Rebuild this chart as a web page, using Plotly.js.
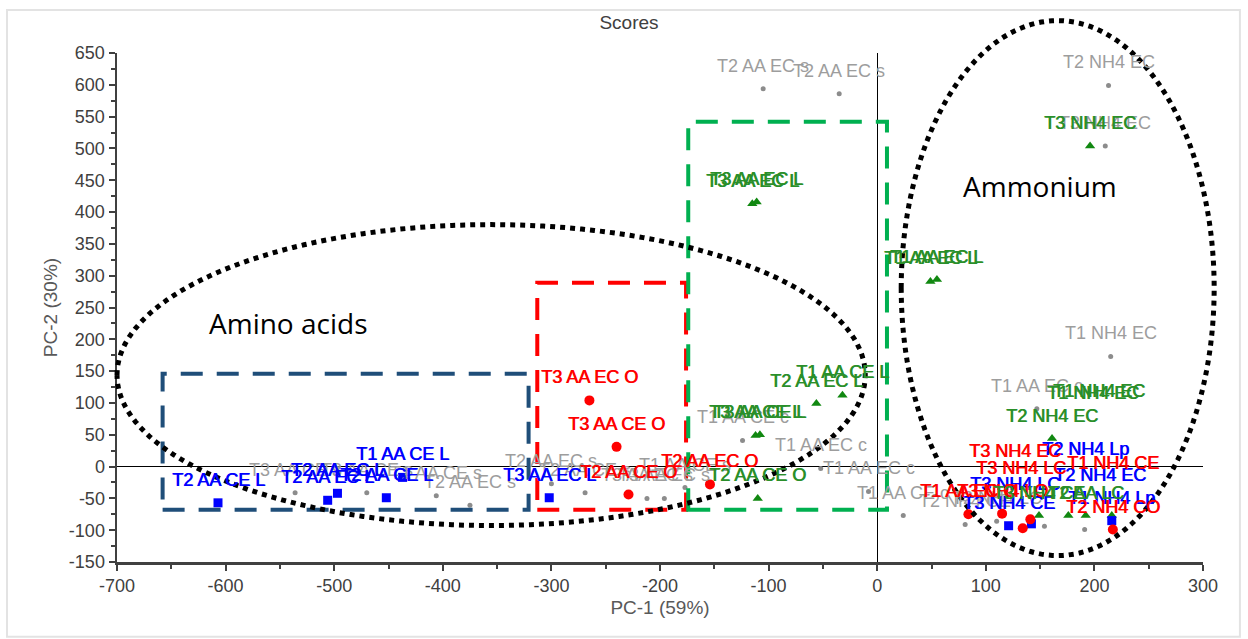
<!DOCTYPE html>
<html><head><meta charset="utf-8">
<script src="https://cdn.plot.ly/plotly-3.0.1.min.js"></script>
<style>html,body{margin:0;padding:0;background:#fff;}#chart{width:1248px;height:639px;}</style>
</head><body><div id="chart"></div>
<script>
// ---------- data (PC-1, PC-2 scores) ----------
const grayX = [-105, -35, 213, 210, 215, 147, -124, 24, -536, -470, -406, -375, -300, -269, -212, -196, -177, 81, 110, 154, 191, -52, -8];
const grayY = [594, 586, 599, 504, 173, 91, 41, -77, -41, -41, -46, -61, -27, -41, -50, -50, -33, -91, -86, -94, -99, -3, -39];
const grayLabels = ["T2 AA EC s","T2 AA EC s","T2 NH4 EC","T3 NH4 EC","T1 NH4 EC","T1 AA EC c","T1 AA CE c","T1 AA CE c","T3 AA CE s","T3 AA CE s","T1 AA CE s","T2 AA EC s","T2 AA EC s","T2 AA CE s","T3 AA EC s","T3 AA EC s","T1 AA CE s","T2 NH4 CE","T2 NH4 LC","","","T1 AA EC c","T1 AA EC c"];

const blueX = [-607, -506, -497, -452, -437, -302, 121, 142, 216];
const blueY = [-57, -53, -42, -49, -17, -49, -93, -90, -85];
const blueLabels = ["T2 AA CE L","T2 AA EC L","T2 AA EC L","T2 AA CE L","T1 AA CE L","T3 AA EC L","T3 NH4 CE","","T1 NH4 Lp"];
const blueTagX = [127, 192, 205];
const blueTagY = [-63, -8, -50];
const blueTagLabels = ["T3 NH4 LC","T2 NH4 Lp","T2 NH4 EC"];

const redX = [-265, -240, -229, -154, 84, 115, 134, 141, 217];
const redY = [104, 31, -44, -28, -75, -74, -97, -83, -99];
const redLabels = ["T3 AA EC O","T3 AA CE O","T2 AA CE O","T2 AA EC O","T1 AA EC O","T3 NH4 LO","","","T2 NH4 CO"];
const redTagX = [127, 217, 132];
const redTagY = [-11, -30, -39];
const redTagLabels = ["T3 NH4 EC","T1 NH4 CE","T3 NH4 LC"];

const greenX = [-115, -111, 49, 55, 196, -32, -56, -112, -108, -110, 161, 149, 176, 192, 216];
const greenY = [413, 416, 291, 294, 504, 112, 99, 49, 50, -50, 44, -77, -77, -77, -77];
const greenLabels = ["T3 AA EC L","T3 AA EC L","T1 AA EC L","T1 AA EC L","T3 NH4 EC","T1 AA CE L","T2 AA EC L","T3 AA CE L","T3 AA CE L","T2 AA CE O","T2 NH4 EC","T3 NH4 CE","","T2 AA LC",""];
const greenTagX = [199, 204];
const greenTagY = [80, 83];
const greenTagLabels = ["T1 NH4 EC","T1 NH4 EC"];

// tick labels
const xTickVals = [-700, -600, -500, -400, -300, -200, -100, 0, 100, 200, 300];
const xTickText = ["-700", "-600", "-500", "-400", "-300", "-200", "-100", "0", "100", "200", "300"];
const yTickVals = [-150, -100, -50, 0, 50, 100, 150, 200, 250, 300, 350, 400, 450, 500, 550, 600, 650];
const yTickText = ["-150", "-100", "-50", "0", "50", "100", "150", "200", "250", "300", "350", "400", "450", "500", "550", "600", "650"];

// group outlines (data units)
const boxX0 = [-658, -313, -174];
const boxX1 = [-321, -176, 9];
const boxY0 = [-68, -68, -68];
const boxY1 = [146, 289, 542];
const ellCX = [-355.5, 166.2];
const ellCY = [143.8, 280.5];
const ellA = [344.5, 144.1];
const ellB = [236.5, 420.4];
const groupNames = ["Amino acids", "Ammonium"];
const groupNameX = [-542, 150];
const groupNameY = [226, 441];

// ---------- styling ----------
const xRange = [-700, 300], yRange = [-150, 650];
const FONT = 'Liberation Sans, Arial, sans-serif';
const C = {gray:'#8c8c8c', grayText:'#9d9d9d', blue:'#0000ff', red:'#ff0000', greenM:'#118811', greenT:'#2a8f2a'};

function mk(x, y, color, symbol, size){
  return {type:'scatter', mode:'markers', x:x, y:y, hoverinfo:'skip', showlegend:false,
    marker:{color:color, symbol:symbol, size:size, line:{width:0}}};
}
const traces = [
  mk(grayX, grayY, C.gray, 'circle', 5),
  mk(greenX, greenY, C.greenM, 'triangle-up', 9),
  mk(blueX, blueY, C.blue, 'square', 9),
  mk(redX, redY, C.red, 'circle', 10)
];

const annotations = [];
function addLabels(xs, ys, texts, color, bold){
  for (let i = 0; i < xs.length; i++){
    if (!texts[i]) continue;
    annotations.push({x:xs[i], y:ys[i], text:texts[i], showarrow:false, yshift:23,
      xanchor:'center', yanchor:'middle',
      font:{family:FONT, size:18, color:color, shadow: bold ? ('0.8px 0 0 ' + color) : 'none'}});
  }
}
addLabels(grayX, grayY, grayLabels, C.grayText, false);
addLabels(blueX, blueY, blueLabels, C.blue, true);
addLabels(blueTagX, blueTagY, blueTagLabels, C.blue, true);
addLabels(redX, redY, redLabels, C.red, true);
addLabels(redTagX, redTagY, redTagLabels, C.red, true);
addLabels(greenX, greenY, greenLabels, C.greenT, true);
addLabels(greenTagX, greenTagY, greenTagLabels, C.greenT, true);

for (let i = 0; i < groupNames.length; i++){
  annotations.push({x:groupNameX[i], y:groupNameY[i], text:groupNames[i], showarrow:false,
    xanchor:'center', yanchor:'middle', font:{family:'Open Sans, sans-serif', size:28, color:'#000'}});
}

const px = v => (v - xRange[0]) / (xRange[1] - xRange[0]);
const py = v => (v - yRange[0]) / (yRange[1] - yRange[0]);
const shapes = [];
const boxColors = ['#1f4e79', '#ff0000', '#00b050'];
for (let i = 0; i < boxX0.length; i++){
  shapes.push({type:'rect', xref:'x', yref:'y', x0:boxX0[i], x1:boxX1[i], y0:boxY0[i], y1:boxY1[i],
    line:{color:boxColors[i], width:4, dash:'22px,14px'}, fillcolor:'rgba(0,0,0,0)'});
}
for (let i = 0; i < ellCX.length; i++){
  let d = '';
  const N = 180;
  for (let k = 0; k <= N; k++){
    const t = Math.PI - 2 * Math.PI * k / N;
    const xx = px(ellCX[i] + ellA[i] * Math.cos(t));
    const yy = py(ellCY[i] + ellB[i] * Math.sin(t));
    d += (k === 0 ? 'M ' : ' L ') + xx.toFixed(5) + ' ' + yy.toFixed(5);
  }
  shapes.push({type:'path', xref:'paper', yref:'paper', path:d, line:{color:'#000', width:5, dash:'5px,5px'}});
}
// outer frame
shapes.push({type:'rect', xref:'paper', yref:'paper', x0:-0.1013, x1:1.034, y0:-0.147, y1:1.0845,
  line:{color:'#e3e3e3', width:2}, layer:'below'});

const axisCommon = {
  showgrid:false, zeroline:true, zerolinecolor:'#000', zerolinewidth:1.3,
  showline:true, linecolor:'#404040', linewidth:2.5, mirror:false,
  ticks:'outside', ticklen:6, tickwidth:2, tickcolor:'#404040',
  tickfont:{family:FONT, size:18, color:'#404040'},
  fixedrange:true
};

const layout = {
  width:1248, height:639,
  margin:{l:117, r:45, t:53, b:77},
  paper_bgcolor:'#fff', plot_bgcolor:'#fff',
  title:{text:'Scores', x:0.504, xanchor:'center', y:0.9656, yanchor:'middle',
    font:{family:FONT, size:19, color:'#404040'}},
  xaxis:Object.assign({}, axisCommon, {range:xRange, tickmode:'array', tickvals:xTickVals, ticktext:xTickText,
    minor:{dtick:50, tick0:0, ticks:'outside', ticklen:4, tickwidth:2, tickcolor:'#404040'},
    title:{text:'PC-1 (59%)', standoff:6, font:{family:FONT, size:19, color:'#595959'}}}),
  yaxis:Object.assign({}, axisCommon, {range:yRange, tickmode:'array', tickvals:yTickVals, ticktext:yTickText,
    minor:{dtick:25, tick0:0, ticks:'outside', ticklen:4, tickwidth:2, tickcolor:'#404040'},
    title:{text:'PC-2 (30%)', standoff:6, font:{family:FONT, size:19, color:'#595959'}}}),
  shapes:shapes,
  annotations:annotations
};

Plotly.newPlot('chart', traces, layout, {staticPlot:true, displayModeBar:false});
</script>
</body></html>
